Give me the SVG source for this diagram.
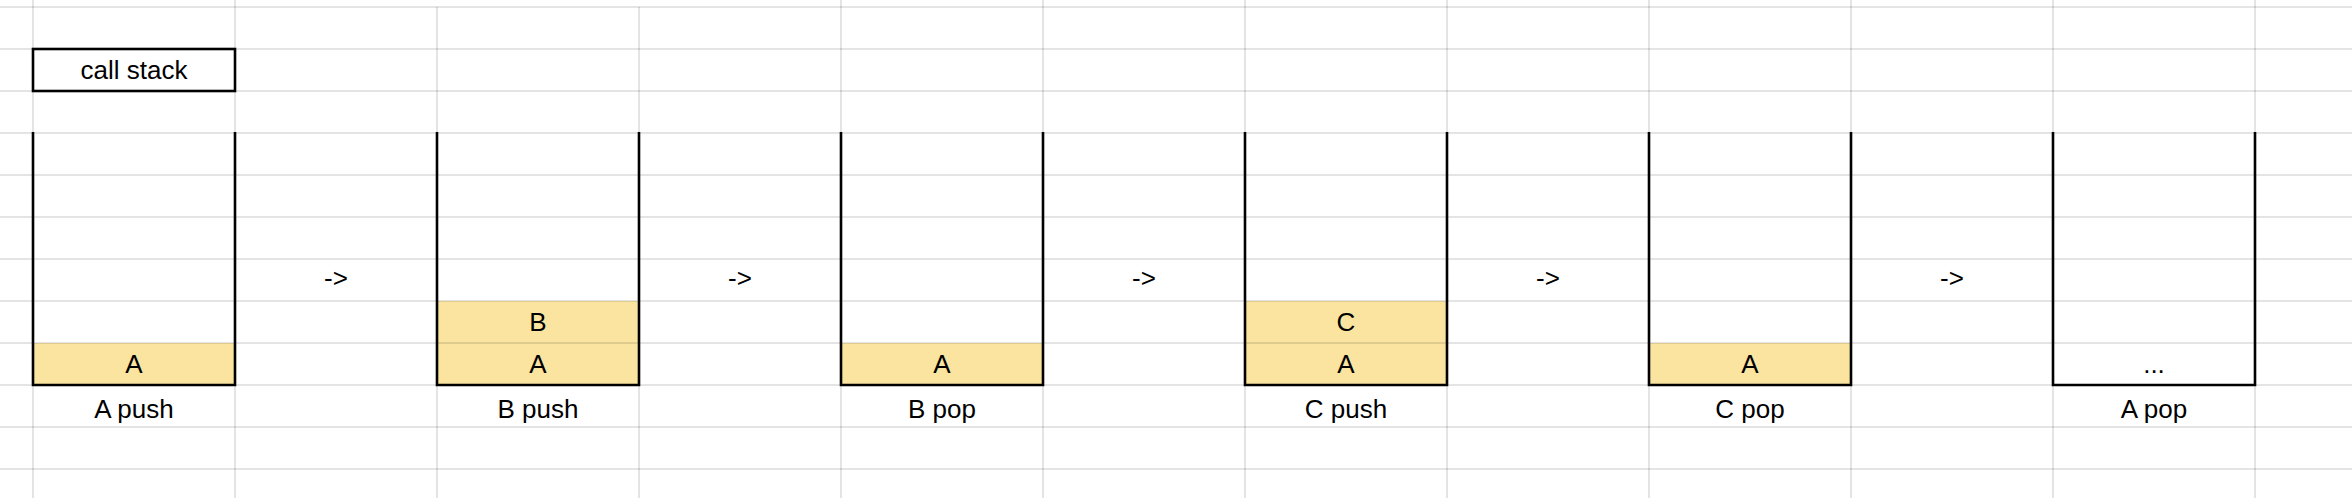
<svg xmlns="http://www.w3.org/2000/svg" width="2352" height="498" viewBox="0 0 2352 498">
<style>
.grid{stroke:rgba(0,0,0,0.105);stroke-width:2;fill:none}
.cell{fill:#fae49f}
.box{fill:none;stroke:#000;stroke-width:2.6}
.t{font-family:"Liberation Sans",Arial,Helvetica,sans-serif;font-size:26px;fill:#000;text-anchor:middle}
</style>
<rect width="2352" height="498" fill="#fff"/>
<g id="cells">
<rect class="cell" x="33" y="343" width="202" height="42"/>
<rect class="cell" x="437" y="301" width="202" height="84"/>
<rect class="cell" x="841" y="343" width="202" height="42"/>
<rect class="cell" x="1245" y="301" width="202" height="84"/>
<rect class="cell" x="1649" y="343" width="202" height="42"/>
</g>
<g id="grid" class="grid">
<path d="M0,7H2352M0,49H2352M0,91H2352M0,133H2352M0,175H2352M0,217H2352M0,259H2352M0,301H2352M0,343H2352M0,385H2352M0,427H2352M0,469H2352"/>
<path d="M33,0V498M235,0V498M841,0V498M1043,0V498M1245,0V498M1447,0V498M1649,0V498M1851,0V498M2053,0V498M2255,0V498M437,7V498M639,7V498"/>
</g>
<g id="title">
<rect class="box" x="33" y="49" width="202" height="42"/>
<text class="t" x="134" y="79">call stack</text>
</g>
<g id="stack1">
<path class="box" d="M33,132V385H235V132"/>
<text class="t" x="134" y="373">A</text>
<text class="t" x="134" y="418">A push</text>
</g>
<g id="stack2">
<path class="box" d="M437,132V385H639V132"/>
<text class="t" x="538" y="331">B</text>
<text class="t" x="538" y="373">A</text>
<text class="t" x="538" y="418">B push</text>
</g>
<g id="stack3">
<path class="box" d="M841,132V385H1043V132"/>
<text class="t" x="942" y="373">A</text>
<text class="t" x="942" y="418">B pop</text>
</g>
<g id="stack4">
<path class="box" d="M1245,132V385H1447V132"/>
<text class="t" x="1346" y="331">C</text>
<text class="t" x="1346" y="373">A</text>
<text class="t" x="1346" y="418">C push</text>
</g>
<g id="stack5">
<path class="box" d="M1649,132V385H1851V132"/>
<text class="t" x="1750" y="373">A</text>
<text class="t" x="1750" y="418">C pop</text>
</g>
<g id="stack6">
<path class="box" d="M2053,132V385H2255V132"/>
<text class="t" x="2154" y="373">...</text>
<text class="t" x="2154" y="418">A pop</text>
</g>
<g id="connectors">
<text class="t" x="336" y="287">-&gt;</text>
<text class="t" x="740" y="287">-&gt;</text>
<text class="t" x="1144" y="287">-&gt;</text>
<text class="t" x="1548" y="287">-&gt;</text>
<text class="t" x="1952" y="287">-&gt;</text>
</g>
</svg>
